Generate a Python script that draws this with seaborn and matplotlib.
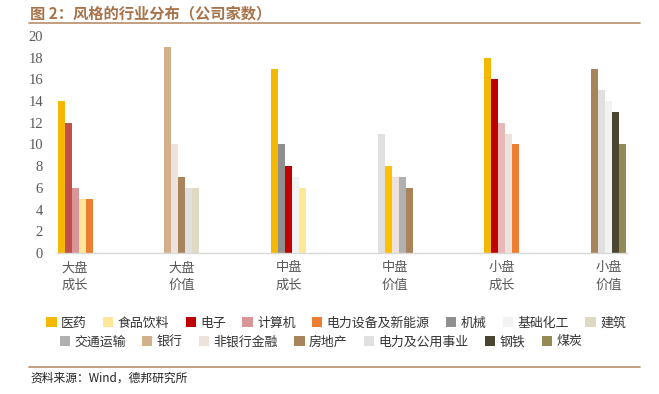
import pandas as pd
import matplotlib
matplotlib.use("Agg")
import matplotlib.pyplot as plt
from matplotlib.patches import Patch
from matplotlib.lines import Line2D
import seaborn as sns

# Style groups (x categories)
groups = ["大盘\n成长", "大盘\n价值", "中盘\n成长", "中盘\n价值", "小盘\n成长", "小盘\n价值"]

# Top five industries per group, sorted by number of companies
group_industries = [
    ["医药", "电子", "计算机", "食品饮料", "电力设备及新能源"],
    ["银行", "非银行金融", "房地产", "电力及公用事业", "建筑"],
    ["医药", "机械", "电子", "基础化工", "食品饮料"],
    ["电力及公用事业", "医药", "非银行金融", "交通运输", "房地产"],
    ["医药", "电子", "计算机", "非银行金融", "电力设备及新能源"],
    ["房地产", "电力及公用事业", "基础化工", "钢铁", "煤炭"],
]
group_counts = [
    [14, 12, 6, 5, 5],
    [19, 10, 7, 6, 6],
    [17, 10, 8, 7, 6],
    [11, 8, 7, 7, 6],
    [18, 16, 12, 11, 10],
    [17, 15, 14, 13, 10],
]

legend_row1 = ["医药", "食品饮料", "电子", "计算机", "电力设备及新能源", "机械", "基础化工", "建筑"]
legend_row2 = ["交通运输", "银行", "非银行金融", "房地产", "电力及公用事业", "钢铁", "煤炭"]

colors = {
    "医药": "#F4B800", "食品饮料": "#FFE699", "电子": "#C00000", "计算机": "#DA9694",
    "电力设备及新能源": "#ED7D31", "机械": "#8F8F8F", "基础化工": "#F2F2F2", "建筑": "#DDD9C3",
    "交通运输": "#B0B0B0", "银行": "#D4B08A", "非银行金融": "#EDE3DC", "房地产": "#A8835C",
    "电力及公用事业": "#E0E0E0", "钢铁": "#4A4530", "煤炭": "#948A54",
}
# a few bars in the source use a slightly different shade
color_override = {(0, "电子"): "#C0504D", (4, "计算机"): "#E6B9B8", (3, "医药"): "#FFC000"}

rows = []
for gi, g in enumerate(groups):
    for si, (ind, v) in enumerate(zip(group_industries[gi], group_counts[gi])):
        rows.append({"group": g, "slot": si, "industry": ind, "count": v})
df = pd.DataFrame(rows)

sns.set_style("white")
plt.rcParams["font.family"] = ["Noto Sans CJK SC", "DejaVu Sans"]

fig = plt.figure(figsize=(6.59, 3.94), dpi=100)
ax = fig.add_axes([0.0865, 0.358, 0.8645, 0.5505])

sns.barplot(data=df, x="group", y="count", hue="slot", order=groups,
            dodge=True, width=0.33, gap=0, linewidth=0, legend=False, ax=ax)

for si, cont in enumerate(ax.containers):
    for gi, bar in enumerate(cont):
        ind = group_industries[gi][si]
        bar.set_facecolor(color_override.get((gi, ind), colors[ind]))
        bar.set_edgecolor("none")

ax.set_xlim(-0.17, 5.17)
ax.set_ylim(0, 20)
ax.set_yticks(range(0, 21, 2))
ax.set_xlabel("")
ax.set_ylabel("")
for s in ["top", "right", "left"]:
    ax.spines[s].set_visible(False)
ax.spines["bottom"].set_color("#D9D9D9")
ax.spines["bottom"].set_linewidth(1.0)
ax.tick_params(axis="both", length=0)
ax.tick_params(axis="x", pad=6, labelsize=9.5, labelcolor="#595959")
ax.tick_params(axis="y", pad=10, labelcolor="#595959")
for lbl in ax.get_yticklabels():
    lbl.set_fontfamily("Liberation Serif")
    lbl.set_fontsize(10.5)
for lbl in ax.get_xticklabels():
    lbl.set_linespacing(1.45)

# legends, two rows
for names, y, xc in [(legend_row1, 0.180, 0.51), (legend_row2, 0.132, 0.487)]:
    handles = [Patch(facecolor=colors[n], edgecolor="none") for n in names]
    fig.legend(handles, names, loc="center", bbox_to_anchor=(xc, y), ncol=len(names),
               frameon=False, fontsize=9.3, handlelength=0.8, handleheight=0.8,
               handletextpad=0.35, columnspacing=1.25, borderpad=0,
               labelcolor="#333333")

# title and rules
fig.text(0.046, 0.966, "图 2：风格的行业分布（公司家数）", fontsize=11, fontweight="bold",
         color="#A8734A", va="center", ha="left")
fig.add_artist(Line2D([0.044, 0.971], [0.941, 0.941], color="#B98C68", lw=1.2))
fig.add_artist(Line2D([0.044, 0.971], [0.0685, 0.0685], color="#B98C68", lw=1.2))
fig.text(0.046, 0.040, "资料来源：Wind，德邦研究所", fontsize=8.5, color="#222222",
         va="center", ha="left")

fig.savefig("out.png", dpi=100)
